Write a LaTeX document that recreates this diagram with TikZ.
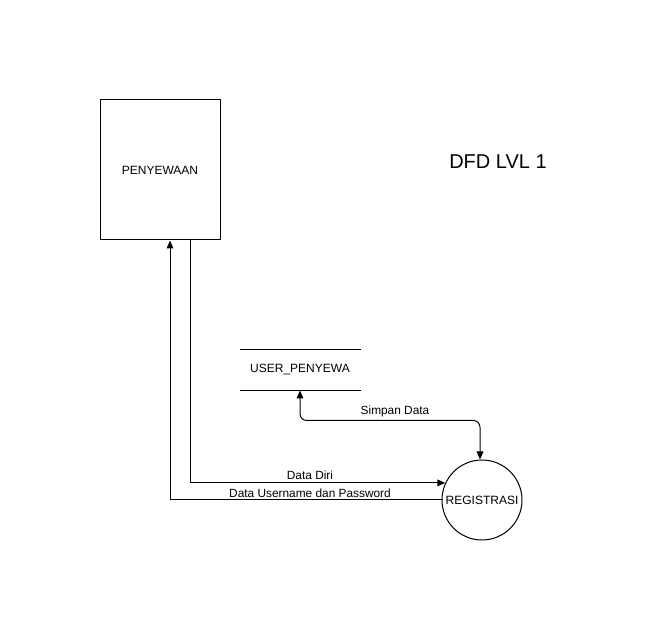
\documentclass[tikz,border=0pt]{standalone}
\usepackage{fontspec}
\setmainfont{Liberation Sans}
\usetikzlibrary{arrows.meta}
\begin{document}
\begin{tikzpicture}[x=0.75pt,y=-0.75pt,
  line width=0.75pt,
  arr/.style={-{Triangle[length=6pt,width=5pt]}},
  arrboth/.style={{Triangle[length=6pt,width=5pt]}-{Triangle[length=6pt,width=5pt]}},
  ntext/.style={font=\fontsize{9pt}{11pt}\selectfont},
  elabel/.style={font=\fontsize{8.9pt}{10pt}\selectfont, inner sep=0pt}]
\useasboundingbox[fill=white] (0,0) rectangle (651,641);
\node[draw, minimum width=90pt, minimum height=105pt, ntext, inner sep=0pt] (pen) at (160,170) {PENYEWAAN};
\node[minimum width=90pt, minimum height=30pt, ntext, inner sep=0pt] (store) at (300,370) {USER\_PENYEWA};
\draw (store.north west) -- (store.north east);
\draw (store.south west) -- (store.south east);
\node[draw, circle, minimum size=60pt, inner sep=0pt, ntext] (reg) at (482,500) {REGISTRASI};
\node[font=\fontsize{15pt}{18pt}\selectfont, inner sep=0pt] (title) at (498,162) {DFD LVL 1};
\draw[arr] ([xshift=22.5pt]pen.south) |- (reg.155);
\draw[arr] (reg.west) -| ([xshift=7.5pt]pen.south);
\draw[arrboth, rounded corners=5pt] (store.south) -- ++(0,30) -| ([xshift=-1.5pt]reg.north);
\node[elabel] (l1) at (395,411) {Simpan Data};
\node[elabel] (l2) at (310,475) {Data Diri};
\node[elabel] (l3) at (310,493) {Data Username dan Password};
\end{tikzpicture}
\end{document}
